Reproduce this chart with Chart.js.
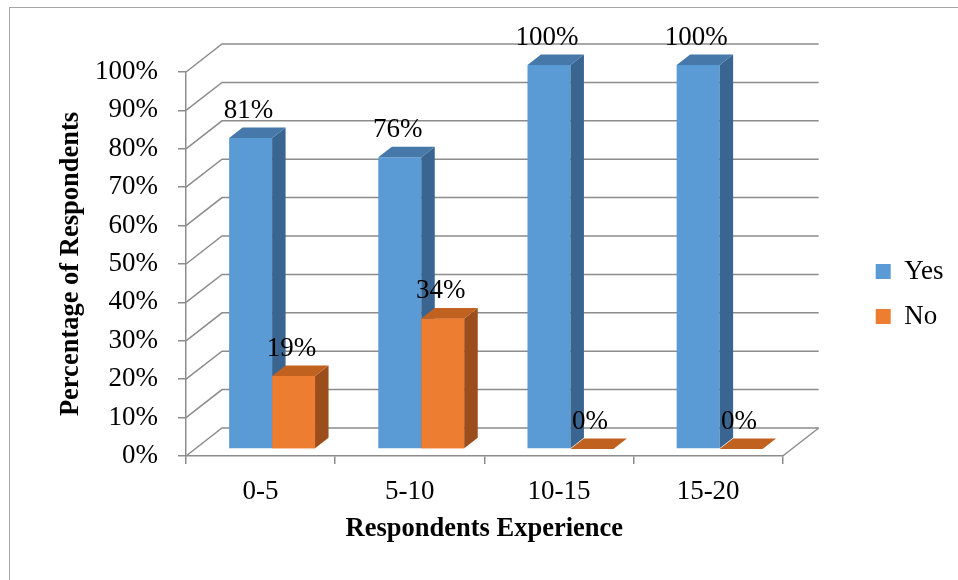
<!DOCTYPE html>
<html lang="en">
  <head>
    <meta charset="UTF-8" />
    <script src="https://cdn.jsdelivr.net/npm/chart.js"></script>
    <style>
      body {
        margin: 0;
        background: #fff;
      }
      #experienceChart {
        display: block;
      }
    </style>
  </head>
  <body>
    <canvas id="experienceChart" width="958" height="580"></canvas>

    <script>
      // data
      const categories = ["0-5", "5-10", "10-15", "15-20"];
      const yesValues = [81, 76, 100, 100];
      const noValues = [19, 34, 0, 0];
      const percentTicks = [0, 10, 20, 30, 40, 50, 60, 70, 80, 90, 100];

      const FONT = '"Liberation Serif", "Times New Roman", serif';
      const GRID = "#8c8c8c";

      // fake 3D: back wall, the row where the bars stand, and bar depth
      const WALL_DX = 36, WALL_DY = -28;
      const ROW_DX = 11.5, ROW_DY = -7;
      const BAR_DX = 13.5, BAR_DY = -10.5;

      const faces = [
        { top: "#4678a9", side: "#3a6591" }, // Yes
        { top: "#c0611f", side: "#9b4e1b" }, // No
      ];

      Chart.defaults.color = "#000";
      Chart.defaults.font.family = FONT;

      const framePlugin = {
        id: "frame",
        beforeDraw(chart) {
          const ctx = chart.ctx;
          ctx.save();
          ctx.strokeStyle = "#a6a6a6";
          ctx.lineWidth = 1;
          ctx.strokeRect(9.5, 7.5, 1000, 1000);
          ctx.restore();
        },
      };

      const wallsPlugin = {
        id: "walls",
        beforeDatasetsDraw(chart) {
          const { ctx, scales } = chart;
          const x = scales.x, y = scales.y;
          ctx.save();
          ctx.strokeStyle = GRID;
          ctx.lineWidth = 1.5;
          y.ticks.forEach((t) => {
            const py = y.getPixelForValue(t.value);
            ctx.beginPath();
            ctx.moveTo(x.left, py);
            ctx.lineTo(x.left + WALL_DX, py + WALL_DY);
            ctx.lineTo(x.right + WALL_DX, py + WALL_DY);
            ctx.stroke();
          });
          // right edge of the floor
          const py0 = y.getPixelForValue(0);
          ctx.beginPath();
          ctx.moveTo(x.right, py0);
          ctx.lineTo(x.right + WALL_DX, py0 + WALL_DY);
          ctx.stroke();
          ctx.restore();
        },
        beforeDatasetDraw(chart) {
          chart.ctx.save();
          chart.ctx.translate(ROW_DX, ROW_DY);
        },
        afterDatasetDraw(chart) {
          chart.ctx.restore();
        },
      };

      function drawFaces(ctx, bar, colors) {
        const { x, y, base, width } = bar.getProps(["x", "y", "base", "width"], true);
        const x0 = x - width / 2, x1 = x + width / 2;
        // side
        ctx.fillStyle = colors.side;
        ctx.beginPath();
        ctx.moveTo(x1, y);
        ctx.lineTo(x1 + BAR_DX, y + BAR_DY);
        ctx.lineTo(x1 + BAR_DX, base + BAR_DY);
        ctx.lineTo(x1, base);
        ctx.closePath();
        ctx.fill();
        // top
        ctx.fillStyle = colors.top;
        ctx.beginPath();
        ctx.moveTo(x0, y);
        ctx.lineTo(x1, y);
        ctx.lineTo(x1 + BAR_DX, y + BAR_DY);
        ctx.lineTo(x0 + BAR_DX, y + BAR_DY);
        ctx.closePath();
        ctx.fill();
      }

      const barsPlugin = {
        id: "bars3d",
        afterDatasetsDraw(chart) {
          const ctx = chart.ctx;
          ctx.save();
          ctx.translate(ROW_DX, ROW_DY);
          chart.data.datasets.forEach((ds, di) => {
            const meta = chart.getDatasetMeta(di);
            meta.data.forEach((bar) => {
              // front of later series must hide the side of the earlier one
              if (di > 0) bar.draw(ctx);
              drawFaces(ctx, bar, faces[di]);
            });
          });
          ctx.restore();

          // value labels
          ctx.save();
          ctx.font = "27px " + FONT;
          ctx.fillStyle = "#000";
          ctx.textAlign = "center";
          ctx.textBaseline = "alphabetic";
          chart.data.datasets.forEach((ds, di) => {
            const meta = chart.getDatasetMeta(di);
            meta.data.forEach((bar, i) => {
              const { x, y } = bar.getProps(["x", "y"], true);
              ctx.fillText(ds.data[i] + "%", x + ROW_DX - 2, y + ROW_DY + BAR_DY - 9.5);
            });
          });
          ctx.restore();
        },
      };

      const ctx = document.getElementById("experienceChart").getContext("2d");
      const experienceChart = new Chart(ctx, {
        type: "bar",
        data: {
          labels: categories,
          datasets: [
            {
              label: "Yes",
              data: yesValues,
              backgroundColor: "#5b9bd5",
              borderWidth: 0,
              clip: false,
            },
            {
              label: "No",
              data: noValues,
              backgroundColor: "#ed7d31",
              borderWidth: 0,
              clip: false,
            },
          ],
        },
        options: {
          responsive: false,
          animation: false,
          events: [],
          categoryPercentage: 0.576,
          barPercentage: 1,
          layout: { padding: { top: 8, left: 0, right: 4.5, bottom: 0 } },
          plugins: {
            tooltip: { enabled: false },
            legend: {
              position: "right",
              labels: {
                boxWidth: 15,
                boxHeight: 15,
                padding: 18,
                font: { size: 27, family: FONT },
                color: "#000",
              },
            },
          },
          scales: {
            x: {
              grid: {
                display: true,
                drawOnChartArea: false,
                tickLength: 8,
                color: GRID,
                lineWidth: 1.5,
              },
              border: { display: true, color: GRID, width: 1.5 },
              ticks: { font: { size: 27 }, padding: 12, color: "#000" },
              title: {
                display: true,
                text: "Respondents Experience",
                font: { size: 26.5, weight: "bold" },
                padding: { top: 0, bottom: 35 },
                color: "#000",
              },
              afterFit(scale) {
                scale.height = 124;
              },
            },
            y: {
              min: 0,
              max: 100,
              afterBuildTicks(scale) {
                scale.ticks = percentTicks.map((v) => ({ value: v }));
              },
              grid: {
                display: true,
                drawOnChartArea: false,
                tickLength: 8,
                color: GRID,
                lineWidth: 1.5,
              },
              border: { display: true, color: GRID, width: 1.5 },
              ticks: {
                font: { size: 27 },
                padding: 20,
                color: "#000",
                callback: (v) => v + "%",
              },
              title: {
                display: true,
                text: "Percentage of Respondents",
                font: { size: 26.5, weight: "bold" },
                padding: { top: 55, bottom: 0 },
                color: "#000",
              },
              afterFit(scale) {
                scale.width = 186;
              },
            },
            // empty boxes that only hold space above the plot and before the legend
            spaceTop: {
              type: "linear",
              position: "top",
              display: true,
              grid: { display: false },
              border: { display: false },
              ticks: { display: false },
              afterFit(scale) {
                scale.height = 64;
              },
            },
            spaceRight: {
              type: "linear",
              position: "right",
              display: true,
              grid: { display: false },
              border: { display: false },
              ticks: { display: false },
              afterFit(scale) {
                scale.width = 75;
              },
            },
          },
        },
        plugins: [framePlugin, wallsPlugin, barsPlugin],
      });
    </script>
  </body>
</html>
